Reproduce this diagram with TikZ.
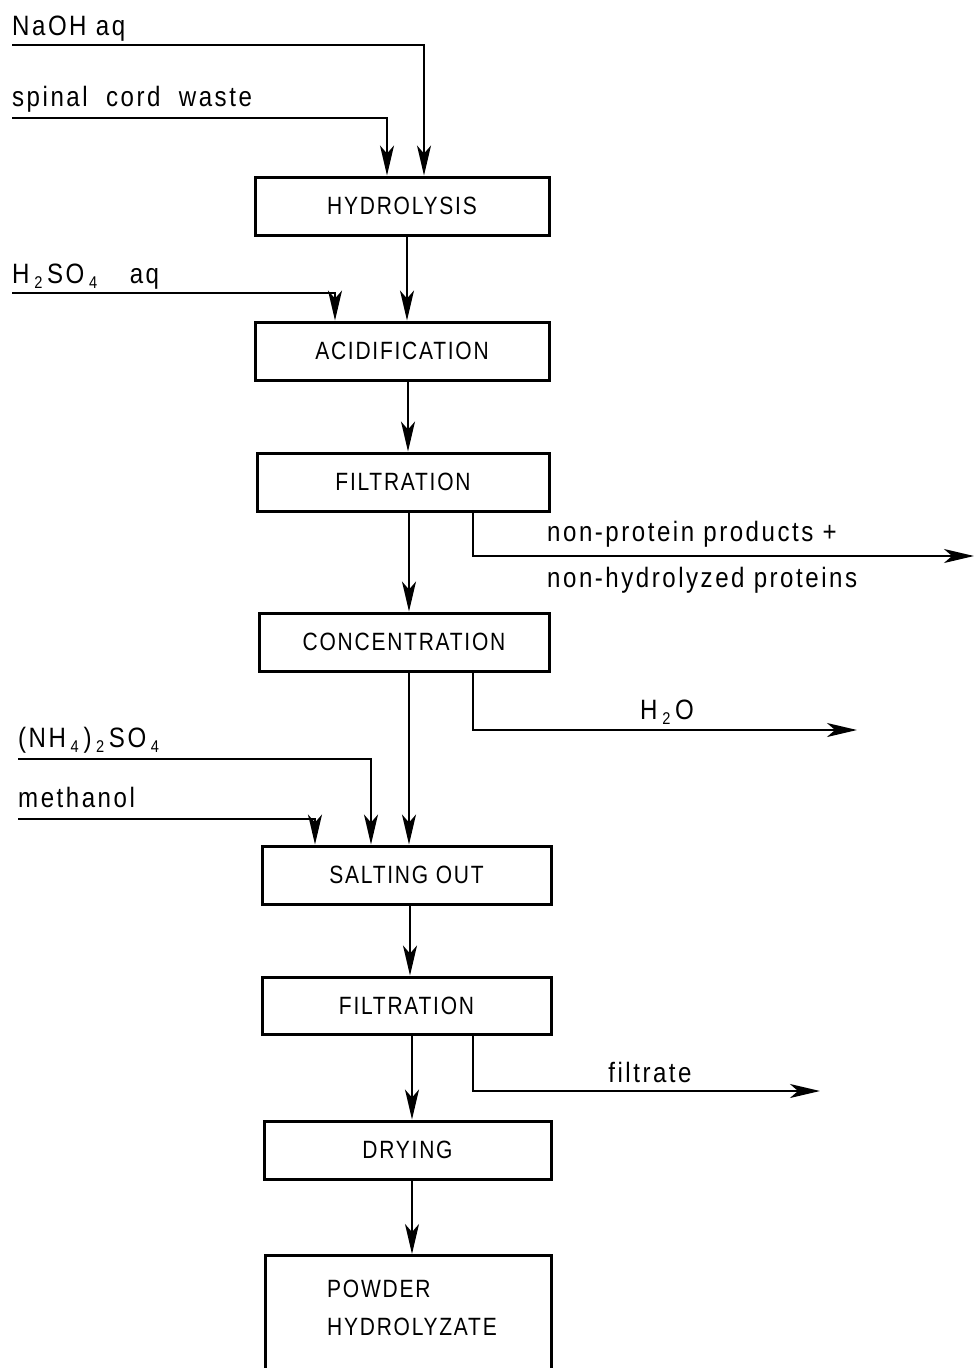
\documentclass[tikz,border=0pt]{standalone}
\usepackage{fontspec}
\setmainfont{Liberation Sans}
\newfontfamily\lblfamily[LetterSpace=9,FakeStretch=0.86]{Liberation Sans}
\newfontfamily\boxfamily[LetterSpace=7,FakeStretch=0.84]{Liberation Sans}
\usetikzlibrary{arrows.meta,calc}
\newcommand{\mysub}[1]{\,\raisebox{-5pt}{\fontsize{17}{17}\selectfont #1}\,}
\begin{document}
\begin{tikzpicture}[x=1pt,y=-1pt,
  proc/.style={draw, line width=3pt, rectangle, inner sep=0pt,
    font=\boxfamily\fontsize{25}{30}\selectfont},
  arr/.style={line width=1.8pt, -{Stealth[length=30pt,width=14pt,inset=8pt]}},
  lbl/.style={anchor=base west, inner sep=0pt, font=\lblfamily\fontsize{28}{32}\selectfont}
]
\useasboundingbox (0,0) rectangle (974,1368);
\clip (0,0) rectangle (974,1368);

% process boxes
\node[proc, minimum width=294pt, minimum height=58pt] (hyd) at (402,206) {HYDROLYSIS};
\node[proc, minimum width=294pt, minimum height=58pt] (acid) at (402,351) {ACIDIFICATION};
\node[proc, minimum width=292pt, minimum height=58pt] (filt1) at (403,482) {FILTRATION};
\node[proc, minimum width=290pt, minimum height=58pt] (conc) at (404,642) {CONCENTRATION};
\node[proc, minimum width=289pt, minimum height=58pt] (salt) at (406.5,875) {SALTING OUT};
\node[proc, minimum width=289pt, minimum height=57pt] (filt2) at (406.5,1005.5) {FILTRATION};
\node[proc, minimum width=287pt, minimum height=58pt] (dry) at (407.5,1150) {DRYING};
\node[proc, anchor=north, minimum width=286pt, minimum height=160pt] (powder) at (408,1254) {};
\node[anchor=north west, inner sep=0pt, align=left,
  font=\boxfamily\fontsize{25}{38}\selectfont] (powdertext) at (327,1280)
  {POWDER\\HYDROLYZATE};

% input labels
\node[lbl] (naoh) at (12,35) {NaOH aq};
\node[lbl] (spinal) at (12,106) {spinal\ \ cord\ \ waste};
\node[lbl] (h2so4) at (12,283) {H\mysub{2}SO\mysub{4}\quad aq};
\node[lbl] (nh4) at (18,747) {(NH\mysub{4})\mysub{2}SO\mysub{4}};
\node[lbl] (meth) at (18,807) {methanol};

% input line start/corner coordinates
\coordinate (naohS) at (12,45);
\coordinate (naohC) at (424,45);
\coordinate (spS) at (12,118);
\coordinate (spC) at (387,118);
\coordinate (h2S) at (12,293);
\coordinate (h2C) at (335,293);
\coordinate (nhS) at (18,759);
\coordinate (nhC) at (371,759);
\coordinate (meS) at (18,819);
\coordinate (meC) at (315,819);

\draw[arr] (naohS) -- (naohC) -- (hyd.north -| naohC);
\draw[arr] (spS) -- (spC) -- (hyd.north -| spC);
\draw[arr] (h2S) -- (h2C) -- (acid.north -| h2C);
\draw[arr] (nhS) -- (nhC) -- (salt.north -| nhC);
\draw[arr] (meS) -- (meC) -- (salt.north -| meC);

% main flow
\draw[arr] ([xshift=5pt]hyd.south) -- ([xshift=5pt]hyd.south |- acid.north);
\draw[arr] ([xshift=6pt]acid.south) -- ([xshift=6pt]acid.south |- filt1.north);
\draw[arr] ([xshift=6pt]filt1.south) -- ([xshift=6pt]filt1.south |- conc.north);
\draw[arr] ([xshift=5pt]conc.south) -- ([xshift=5pt]conc.south |- salt.north);
\draw[arr] ([xshift=3.5pt]salt.south) -- ([xshift=3.5pt]salt.south |- filt2.north);
\draw[arr] ([xshift=5.5pt]filt2.south) -- ([xshift=5.5pt]filt2.south |- dry.north);
\draw[arr] ([xshift=4.5pt]dry.south) -- ([xshift=4.5pt]dry.south |- powder.north);

% outputs
\coordinate (out1) at (974,556);
\coordinate (out2) at (857,730);
\coordinate (out3) at (820,1091);
\draw[arr] ([xshift=70pt]filt1.south) |- (out1);
\draw[arr] ([xshift=69pt]conc.south) |- (out2);
\draw[arr] ([xshift=66.5pt]filt2.south) |- (out3);

\node[lbl] (np1) at (547,541) {non-protein products +};
\node[lbl] (np2) at (547,587) {non-hydrolyzed proteins};
\node[lbl, anchor=base] (h2o) at (667,719) {H\mysub{2}O};
\node[lbl, anchor=base] (filtr) at (650,1082) {filtrate};
\end{tikzpicture}
\end{document}
